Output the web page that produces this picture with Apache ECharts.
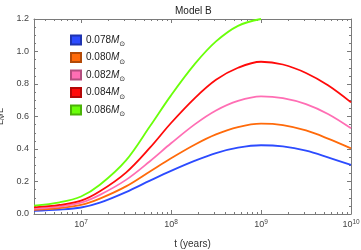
<!DOCTYPE html>
<html><head><meta charset="utf-8">
<script src="https://cdn.jsdelivr.net/npm/echarts@6/dist/echarts.min.js"></script>
<style>html,body{margin:0;padding:0;background:#fff}#c{width:361px;height:250px}</style>
</head><body><div id="c"></div>
<script>
const times = [3e6, 5.8e6, 1e7, 1.62e7, 3.16e7, 5.83e7, 1e8, 1.85e8, 3.16e8, 5.55e8, 1e9, 1.75e9, 3.16e9, 5.55e9, 1e10];
const masses = ['0.078', '0.080', '0.082', '0.084', '0.086'];
const blue   = [0.020, 0.027, 0.040, 0.070, 0.135, 0.205, 0.265, 0.328, 0.375, 0.408, 0.423, 0.416, 0.390, 0.349, 0.302];
const orange = [0.026, 0.037, 0.056, 0.095, 0.170, 0.262, 0.343, 0.428, 0.490, 0.535, 0.556, 0.547, 0.514, 0.464, 0.404];
const pink   = [0.033, 0.046, 0.070, 0.118, 0.210, 0.325, 0.435, 0.553, 0.637, 0.696, 0.724, 0.713, 0.676, 0.615, 0.527];
const red    = [0.041, 0.056, 0.082, 0.140, 0.255, 0.408, 0.560, 0.715, 0.826, 0.900, 0.937, 0.920, 0.868, 0.792, 0.687];
const green  = [0.051, 0.072, 0.108, 0.180, 0.330, 0.540, 0.730, 0.925, 1.062, 1.158, 1.200];
const xMajor = [1e7, 1e8, 1e9, 1e10];
const xMinor = [];
for (let e = 6; e < 10; e++) for (let k = 2; k <= 9; k++) { const v = k * Math.pow(10, e); if (v > 3e6) xMinor.push(v); }

const colors = ['#2c4bff', '#ff6a0a', '#ff6eb4', '#ff0a0a', '#6aff0a'];
const borders = ['#1e33b0', '#b34a07', '#b34d7e', '#b30707', '#4ab307'];
const seriesVals = [blue, orange, pink, red, green];

const axisCol = '#7a7a7a';
function xAxisDef(pos, ticks, len, showLine, showLabel) {
  return {
    type: 'log', logBase: 10, min: 3e6, max: 1e10, position: pos,
    axisLine: { show: showLine, lineStyle: { color: axisCol, width: 1 } },
    axisTick: { show: true, inside: true, length: len, customValues: ticks, lineStyle: { color: axisCol } },
    axisLabel: showLabel ? {
      show: true, customValues: xMajor, margin: 5,
      formatter: v => '{b|10}{s|' + Math.round(Math.log10(v)) + '}',
      rich: {
        b: { fontSize: 9, color: '#444', fontFamily: 'Liberation Sans' },
        s: { fontSize: 6.5, color: '#444', fontFamily: 'Liberation Sans', verticalAlign: 'top', padding: [0, 0, 5, 0] }
      }
    } : { show: false },
    splitLine: { show: false },
    name: showLabel ? 't (years)' : '', nameLocation: 'middle', nameGap: 25,
    nameTextStyle: { fontSize: 10, color: '#333', fontFamily: 'Liberation Sans' }
  };
}
function yAxisDef(pos, showLabel) {
  return {
    type: 'value', min: 0, max: 1.2, interval: 0.2, position: pos,
    axisLine: { show: true, lineStyle: { color: axisCol, width: 1 } },
    axisTick: { show: true, inside: true, length: 4, lineStyle: { color: axisCol } },
    minorTick: { show: true, splitNumber: 4, length: 2, lineStyle: { color: axisCol } },
    axisLabel: showLabel ? { show: true, fontSize: 9, color: '#444', fontFamily: 'Liberation Sans', margin: 5,
      formatter: v => v.toFixed(1) } : { show: false },
    splitLine: { show: false },
    name: showLabel ? '{l|L}{s|N}{l|/L}' : '', nameLocation: 'middle', nameGap: 21, nameRotate: 90,
    nameTextStyle: { rich: {
      l: { fontSize: 9, color: '#333', fontFamily: 'Liberation Sans' },
      s: { fontSize: 6.5, color: '#333', fontFamily: 'Liberation Sans', fontStyle: 'italic', padding: [4, 0, 0, 0] }
    } }
  };
}

const series = seriesVals.map((vals, i) => ({
  name: masses[i], type: 'line', xAxisIndex: 0, yAxisIndex: 0,
  data: vals.map((v, j) => [times[j], v]),
  smooth: 0.35, showSymbol: false, symbol: 'none',
  lineStyle: { color: colors[i], width: 1.8 },
  itemStyle: { color: colors[i], borderColor: borders[i], borderWidth: 0.8 },
  z: 3
}));

const chart = echarts.init(document.getElementById('c'), null, { renderer: 'canvas' });
chart.setOption({
  animation: false,
  backgroundColor: '#fff',
  color: colors,
  title: { text: 'Model B', left: 170, top: 1, textStyle: { fontSize: 10, fontWeight: 'normal', color: '#222', fontFamily: 'Liberation Sans' } },
  grid: { left: 34, right: 10, top: 19, bottom: 36, containLabel: false, outerBoundsMode: 'none' },
  legend: {
    orient: 'vertical', left: 65, top: 29.5, itemWidth: 10, itemHeight: 9, itemGap: 4,
    icon: 'rect', data: masses,
    formatter: n => '{n|' + n + '}{m|M}{s|⊙}',
    textStyle: { rich: {
      n: { fontSize: 10, color: '#222', fontFamily: 'Liberation Sans' },
      m: { fontSize: 10, color: '#222', fontFamily: 'Liberation Sans', fontStyle: 'italic' },
      s: { fontSize: 7, color: '#222', fontFamily: 'DejaVu Sans', padding: [9, 0, 0, 0] }
    } }
  },
  xAxis: [
    xAxisDef('bottom', xMajor, 4, true, true),
    xAxisDef('bottom', xMinor, 2, false, false),
    xAxisDef('top', xMajor, 4, true, false),
    xAxisDef('top', xMinor, 2, false, false)
  ],
  yAxis: [yAxisDef('left', true), yAxisDef('right', false)],
  series: series
});
</script></body></html>
